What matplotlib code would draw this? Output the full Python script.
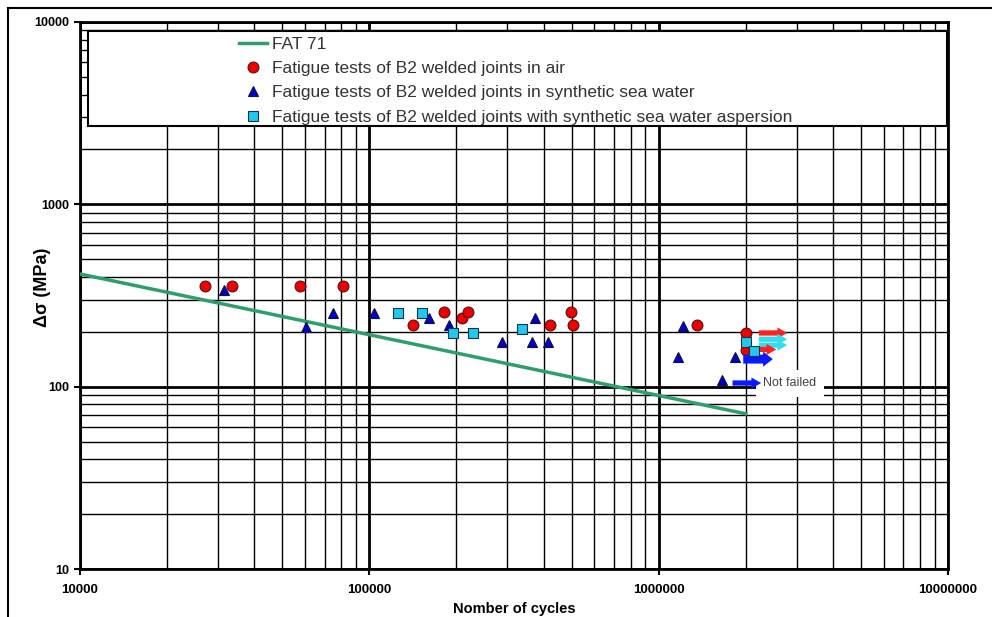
import numpy as np
import matplotlib
matplotlib.use('Agg')
import matplotlib.pyplot as plt
from matplotlib.ticker import LogLocator, FuncFormatter, NullFormatter
from matplotlib.patches import Rectangle
from matplotlib.lines import Line2D

plt.rcParams['font.family'] = ['Liberation Sans', 'DejaVu Sans']

# FAT 71 design curve (end points)
fat_n = [1e4, 2e6]
fat_s = [415, 71]

# fatigue tests in air
air_n = [27000, 33500, 57500, 81000, 141600, 181000, 209000, 219000,
         421000, 498000, 506000, 1.36e6, 2.0e6, 2.0e6]
air_s = [355, 355, 355, 355, 218, 257, 237, 257, 218, 257, 218, 218, 197, 159]

# fatigue tests in synthetic sea water
sea_n = [31500, 60400, 75000, 104000, 160600, 188000, 288000, 365000,
         374000, 415000, 1.17e6, 1.21e6, 1.66e6, 1.84e6]
sea_s = [339, 212, 254, 254, 238, 218, 176, 176, 238, 176, 145, 215, 108.6, 145]

# fatigue tests with sea water aspersion
asp_n = [125600, 152000, 194000, 228000, 337000, 2.0e6, 2.14e6]
asp_s = [254, 254, 197, 197, 207, 176, 157]

# run-outs (not failed) arrows: start, end, stress, colour, tail/head size
arrow_n0 = [2.22e6, 2.22e6, 2.22e6, 2.22e6, 1.96e6, 1.80e6]
arrow_n1 = [2.78e6, 2.78e6, 2.78e6, 2.55e6, 2.48e6, 2.26e6]
arrow_s = [197, 182, 169, 160, 141.6, 104.7]
arrow_c = ['#ff2020', '#33ddee', '#33ddee', '#ff2020', '#0a1aff', '#0a1aff']
arrow_tail = [0.19, 0.19, 0.19, 0.19, 0.32, 0.19]
arrow_head = [0.4, 0.4, 0.4, 0.4, 0.55, 0.4]

fig = plt.figure(figsize=(9.92, 6.17), dpi=100)
W, H = 992, 617
ax = fig.add_axes([80 / W, 1 - 569 / H, 868 / W, 547 / H])

ax.set_xscale('log')
ax.set_yscale('log')
ax.set_xlim(1e4, 1e7)
ax.set_ylim(10, 1e4)

ax.xaxis.set_major_locator(LogLocator(base=10))
ax.yaxis.set_major_locator(LogLocator(base=10))
ax.xaxis.set_minor_locator(LogLocator(base=10, subs=range(2, 10)))
ax.yaxis.set_minor_locator(LogLocator(base=10, subs=range(2, 10)))
fmt = FuncFormatter(lambda v, p: f'{int(round(v))}')
ax.xaxis.set_major_formatter(fmt)
ax.yaxis.set_major_formatter(fmt)
ax.xaxis.set_minor_formatter(NullFormatter())
ax.yaxis.set_minor_formatter(NullFormatter())

ax.grid(which='major', color='black', lw=2.0)
ax.grid(which='minor', color='black', lw=1.0)
ax.set_axisbelow(True)
for s in ax.spines.values():
    s.set_linewidth(2)
ax.tick_params(which='major', length=4, width=1.5, labelsize=9)
ax.tick_params(which='minor', length=0)
ax.tick_params(axis='x', pad=7, labelsize=9.5)
for lab in ax.get_xticklabels() + ax.get_yticklabels():
    lab.set_fontweight('bold')

ax.set_xlabel('Nomber of cycles', fontsize=10.5, fontweight='bold', labelpad=4)
ax.set_ylabel('Δσ (MPa)', fontsize=13, fontweight='bold')
ax.yaxis.set_label_coords(-29 / 868, 0.515)

ax.plot(fat_n, fat_s, color='#2e9e6a', lw=2.5, zorder=4, label='FAT 71')
ax.plot(air_n, air_s, 'o', color='#ee0000', mec='#551111', mew=0.8, ms=7.8,
        zorder=6, label='Fatigue tests of B2 welded joints in air')
ax.plot(sea_n, sea_s, '^', color='#0000cc', mec='#111144', mew=0.8, ms=7.8,
        zorder=6, label='Fatigue tests of B2 welded joints in synthetic sea water')
ax.plot(asp_n, asp_s, 's', color='#22c8f0', mec='#113344', mew=0.8, ms=7.0,
        zorder=7, label='Fatigue tests of B2 welded joints with synthetic sea water aspersion')

for n0, n1, s, c, tw, hw in zip(arrow_n0, arrow_n1, arrow_s, arrow_c, arrow_tail, arrow_head):
    ax.annotate('', xy=(n1, s), xytext=(n0, s), zorder=6,
                arrowprops=dict(arrowstyle=f'simple,head_length=0.35,head_width={hw},tail_width={tw}',
                                mutation_scale=20, color=c, lw=0, shrinkA=0, shrinkB=0))

ax.text(2.30e6, 104.7, 'Not failed', fontsize=9, color='#444444', va='center', ha='left',
        zorder=5, bbox=dict(boxstyle='square,pad=0.6', fc='white', ec='none'))

# legend box
ax.add_patch(Rectangle((88 / W, 1 - 126 / H), (947 - 88) / W, (126 - 31) / H,
                       transform=fig.transFigure, facecolor='white',
                       edgecolor='black', lw=1.5, zorder=8, clip_on=False))
leg = ax.legend(loc='upper left', bbox_to_anchor=(236 / W, 1 - 33 / H),
                bbox_transform=fig.transFigure, frameon=False, fontsize=12.5,
                handlelength=1.6, handletextpad=0.25, labelspacing=0.53,
                borderpad=0.2, borderaxespad=0)
leg.set_zorder(9)
for t in leg.get_texts():
    t.set_color('#333333')

# outer frame of the picture
fig.add_artist(Line2D([8 / W, 8 / W], [0, 1 - 8 / H], transform=fig.transFigure,
                      color='black', lw=1.5))
fig.add_artist(Line2D([8 / W, 1], [1 - 8 / H, 1 - 8 / H], transform=fig.transFigure,
                      color='black', lw=1.5))

plt.savefig('out.png', dpi=100)
